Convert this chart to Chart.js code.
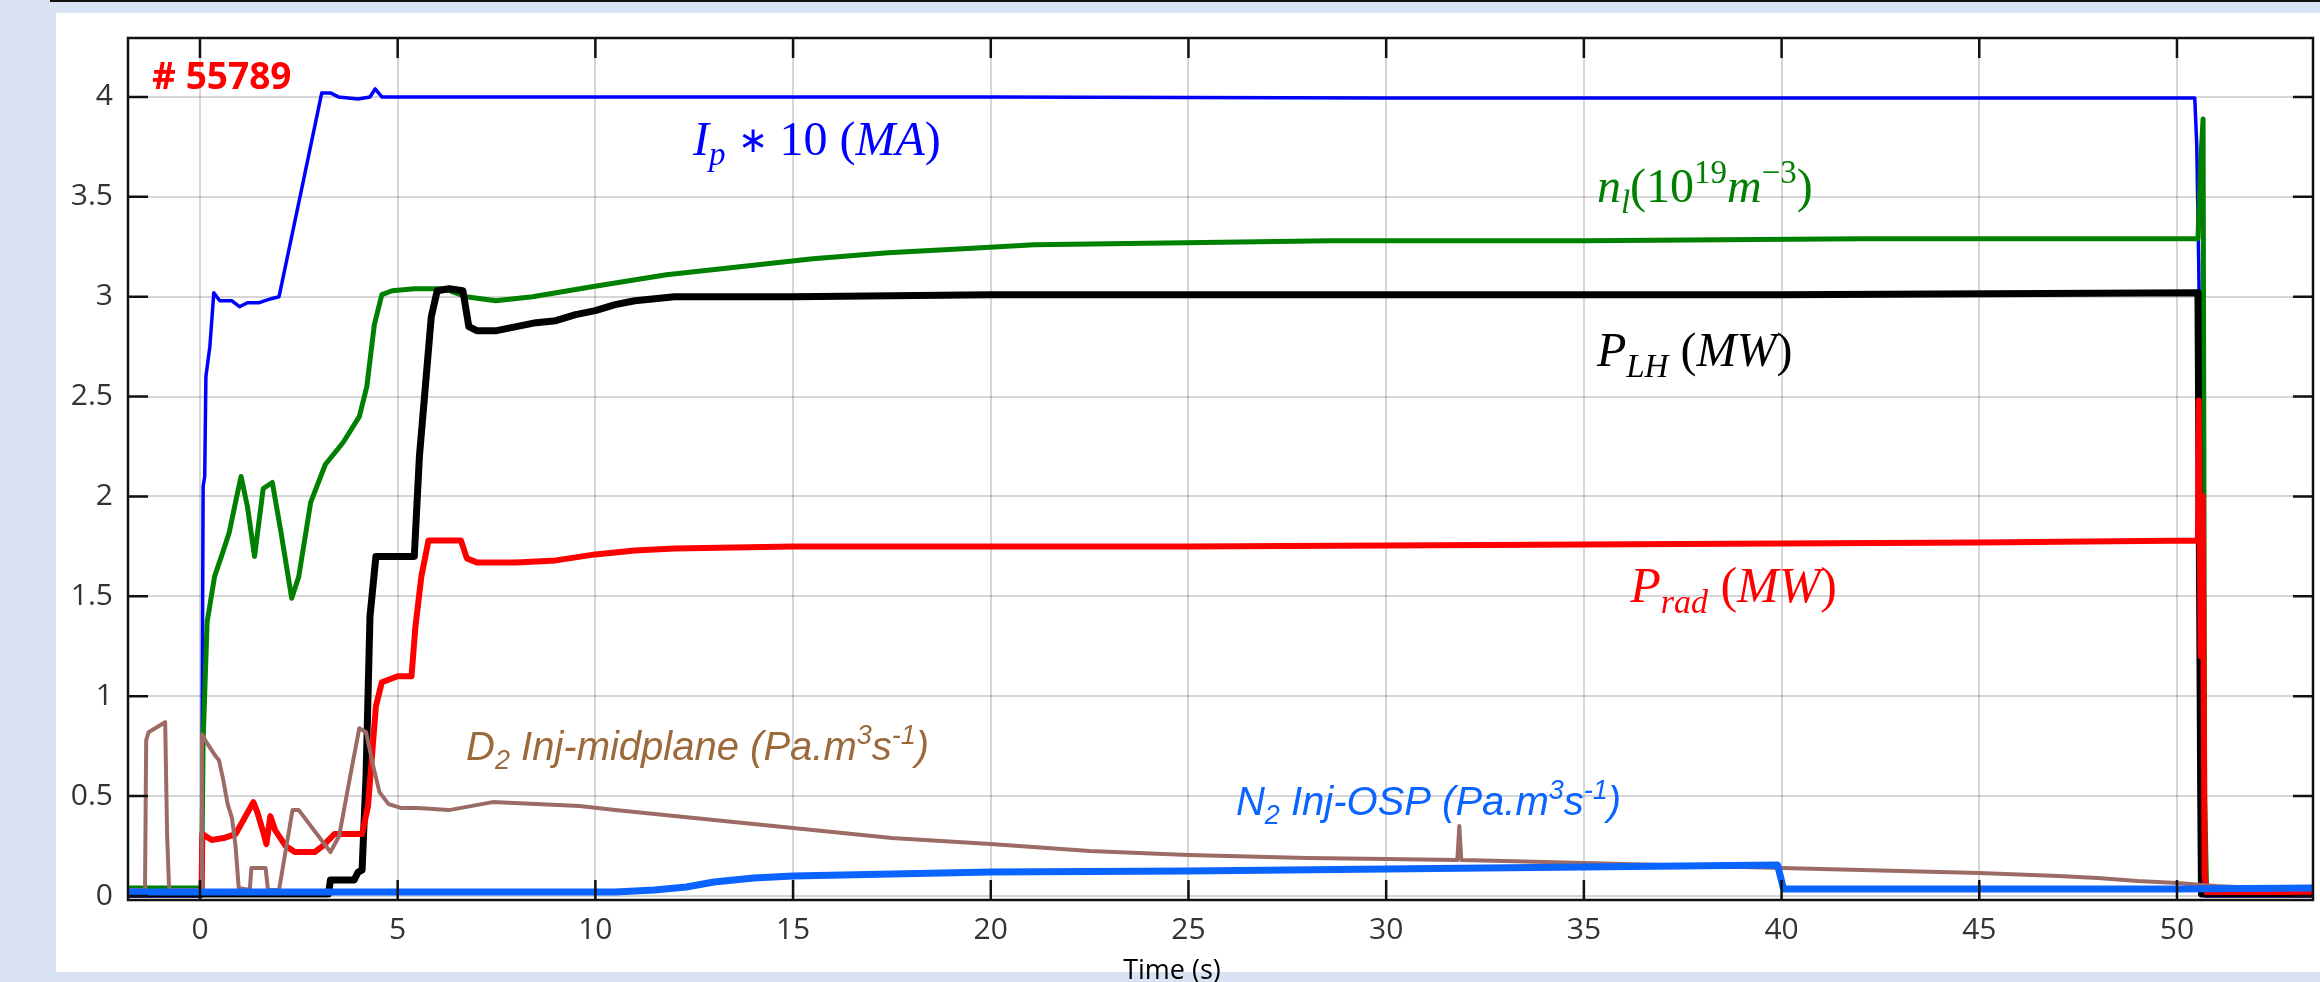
<!DOCTYPE html>
<html>
<head>
<meta charset="utf-8">
<title>Shot 55789</title>
<script src="https://cdn.jsdelivr.net/npm/chart.js@4.4.1/dist/chart.umd.min.js"></script>
<style>
  html, body { margin: 0; padding: 0; }
  body { width: 2320px; height: 982px; background: #dae3f3; position: relative; overflow: hidden; }
  #topline { position: absolute; left: 50px; top: 0; width: 2270px; height: 2px; background: #111; }
  #panel { position: absolute; left: 56px; top: 13px; width: 2264px; height: 959px; background: #fff; }
  #chart { position: absolute; left: 0; top: 0; }
</style>
</head>
<body>
<div id="topline"></div>
<div id="panel"></div>
<canvas id="chart" width="2320" height="982"></canvas>
<script>
// axis ticks
const xTicks = [0, 5, 10, 15, 20, 25, 30, 35, 40, 45, 50];
const yTicks = [0, 0.5, 1, 1.5, 2, 2.5, 3, 3.5, 4];

// Ip * 10 (MA)
const ipT = [-1.82, 0.03, 0.05, 0.08, 0.12, 0.15, 0.25, 0.35, 0.5, 0.8, 1.0, 1.2, 1.5, 1.8, 2.0, 2.53, 3.08, 3.3, 3.5, 4.0, 4.3, 4.43, 4.6, 5.0, 10, 20, 30, 40, 50.45, 50.5, 50.55, 50.6, 50.66, 50.72, 53.44];
const ipV = [0, 0, 0.6, 2.05, 2.1, 2.6, 2.75, 3.02, 2.98, 2.98, 2.95, 2.97, 2.97, 2.99, 3.0, 3.5, 4.02, 4.02, 4.0, 3.99, 4.0, 4.04, 4.0, 4.0, 4.0, 4.0, 3.995, 3.995, 3.995, 3.76, 3.17, 2.29, 0.8, 0, 0];

// n_l (10^19 m^-3)
const nlT = [-1.82, 0.03, 0.05, 0.08, 0.18, 0.37, 0.56, 0.74, 0.93, 1.04, 1.2, 1.38, 1.6, 1.83, 2.05, 2.32, 2.5, 2.8, 3.17, 3.62, 4.03, 4.22, 4.41, 4.6, 4.86, 5.42, 6.17, 6.73, 7.48, 8.41, 9.91, 11.8, 13.65, 15.5, 17.4, 19.3, 21.1, 24.9, 28.6, 35, 42, 50.53, 50.6, 50.66, 50.7, 50.75, 53.44];
const nlV = [0.04, 0.04, 0.2, 0.78, 1.37, 1.6, 1.71, 1.82, 2.0, 2.1, 1.95, 1.7, 2.04, 2.07, 1.82, 1.49, 1.6, 1.97, 2.16, 2.27, 2.4, 2.55, 2.86, 3.01, 3.03, 3.04, 3.04, 3.0, 2.98, 3.0, 3.05, 3.11, 3.15, 3.19, 3.22, 3.24, 3.26, 3.27, 3.28, 3.28, 3.29, 3.29, 3.67, 3.89, 0.5, 0.02, 0.02];

// P_LH (MW)
const plhT = [-1.82, 3.25, 3.3, 3.9, 4.0, 4.1, 4.2, 4.3, 4.45, 5.0, 5.42, 5.55, 5.7, 5.85, 6.0, 6.3, 6.65, 6.8, 7.0, 7.5, 8.0, 8.5, 9.0, 9.5, 10.0, 10.5, 11.0, 12.0, 15, 20, 30, 40, 50.53, 50.56, 50.6, 50.62, 53.44];
const plhV = [0.01, 0.01, 0.08, 0.08, 0.12, 0.13, 0.6, 1.4, 1.7, 1.7, 1.7, 2.2, 2.55, 2.9, 3.03, 3.04, 3.03, 2.85, 2.83, 2.83, 2.85, 2.87, 2.88, 2.91, 2.93, 2.96, 2.98, 3.0, 3.0, 3.01, 3.01, 3.01, 3.02, 1.98, 0.5, 0.01, 0.01];

// P_rad (MW)
const pradT = [-1.82, 0.04, 0.06, 0.3, 0.6, 0.9, 1.1, 1.35, 1.45, 1.6, 1.68, 1.78, 1.9, 2.17, 2.4, 2.9, 3.1, 3.4, 4.1, 4.25, 4.35, 4.45, 4.6, 5.0, 5.35, 5.45, 5.6, 5.78, 6.6, 6.75, 7.0, 8.0, 9.0, 10.0, 11.0, 12.0, 15, 25, 35, 45, 50.53, 50.55, 50.6, 50.65, 50.7, 50.75, 53.44];
const pradV = [0.02, 0.02, 0.31, 0.28, 0.29, 0.31, 0.38, 0.47, 0.42, 0.32, 0.26, 0.4, 0.33, 0.25, 0.22, 0.22, 0.25, 0.31, 0.31, 0.45, 0.7, 0.95, 1.07, 1.1, 1.1, 1.35, 1.6, 1.78, 1.78, 1.69, 1.67, 1.67, 1.68, 1.71, 1.73, 1.74, 1.75, 1.75, 1.76, 1.77, 1.78, 2.48, 1.2, 2.0, 0.1, 0.02, 0.02];

// D2 injection, midplane (Pa.m3/s)
const d2T = [-1.82, -1.39, -1.36, -1.3, -0.88, -0.83, -0.78, 0.0, 0.03, 0.05, 0.13, 0.36, 0.48, 0.59, 0.7, 0.81, 0.9, 0.98, 1.26, 1.3, 1.66, 1.72, 2.0, 2.34, 2.5, 3.3, 3.52, 3.8, 4.03, 4.2, 4.37, 4.54, 4.77, 5.1, 5.5, 6.3, 7.4, 8.5, 9.6, 10.5, 12.0, 13.5, 15, 17.5, 20, 22.5, 25, 28, 30, 31.8, 31.85, 31.9, 33, 35, 38, 40, 43, 45, 47, 48, 49, 50, 51, 52, 53.44];
const d2V = [0.03, 0.03, 0.78, 0.82, 0.87, 0.3, 0.03, 0.03, 0.03, 0.81, 0.78, 0.71, 0.68, 0.58, 0.46, 0.39, 0.25, 0.04, 0.03, 0.14, 0.14, 0.03, 0.03, 0.43, 0.43, 0.22, 0.3, 0.6, 0.84, 0.82, 0.66, 0.52, 0.46, 0.44, 0.44, 0.43, 0.47, 0.46, 0.45, 0.43, 0.4, 0.37, 0.34, 0.29, 0.26, 0.225, 0.205, 0.19, 0.185, 0.18, 0.35, 0.18, 0.175, 0.165, 0.15, 0.14, 0.125, 0.115, 0.1, 0.09, 0.075, 0.065, 0.05, 0.04, 0.035];

// N2 injection, OSP (Pa.m3/s)
const n2T = [-1.82, 5, 9.5, 10.5, 11.5, 12.3, 13.0, 14.0, 15.0, 17.5, 20, 25, 30, 35, 39.9, 40.05, 45, 50, 53.44];
const n2V = [0.02, 0.02, 0.02, 0.02, 0.03, 0.045, 0.07, 0.09, 0.1, 0.11, 0.12, 0.125, 0.135, 0.145, 0.155, 0.035, 0.035, 0.035, 0.04];

const pts = (t, v) => t.map((x, i) => ({ x: x, y: v[i] }));

// text notes, anchored in data units (left edge, baseline)
// run flags: i = italic, b = subscript, p = superscript, m = smaller symbol
const notes = [
  { x: -1.21, y: 4.04, color: '#ff0000', family: '"Noto Sans"', size: 37, weight: 'bold', runs: [['# 55789']] },
  { x: 12.47, y: 3.71, color: '#0000ff', family: '"Liberation Serif"', size: 48, runs: [['I', 'i'], ['p', 'ib'], [' '], ['\u2217', 'm'], [' 10 ('], ['MA', 'i'], [')']] },
  { x: 35.33, y: 3.474, color: '#008000', family: '"Liberation Serif"', size: 48, runs: [['n', 'i'], ['l', 'ib'], ['(10'], ['19', 'p'], ['m', 'i'], ['\u22123', 'p'], [')']] },
  { x: 35.33, y: 2.653, color: '#000000', family: '"Liberation Serif"', size: 48, runs: [['P', 'i'], ['LH', 'ib'], [' ('], ['MW', 'i'], [')']] },
  { x: 36.17, y: 1.472, color: '#ff0000', family: '"Liberation Serif"', size: 50, runs: [['P', 'i'], ['rad', 'ib'], [' ('], ['MW', 'i'], [')']] },
  { x: 6.73, y: 0.681, color: '#9c6a3a', family: '"Liberation Sans"', size: 40, runs: [['D', 'i'], ['2', 'ib'], [' Inj-midplane (Pa.m', 'i'], ['3', 'ip'], ['s', 'i'], ['-1', 'ip'], [')', 'i']] },
  { x: 26.2, y: 0.405, color: '#0a64ff', family: '"Liberation Sans"', size: 40, runs: [['N', 'i'], ['2', 'ib'], [' Inj-OSP (Pa.m', 'i'], ['3', 'ip'], ['s', 'i'], ['-1', 'ip'], [')', 'i']] }
];

function drawNote(ctx, px, py, n) {
  let cx = px;
  ctx.fillStyle = n.color;
  ctx.textAlign = 'left';
  ctx.textBaseline = 'alphabetic';
  n.runs.forEach(([txt, f = '']) => {
    const small = f.includes('b') || f.includes('p');
    let size = small ? Math.round(n.size * 0.68) : n.size;
    let dy = f.includes('b') ? n.size * 0.22 : (f.includes('p') ? -n.size * 0.4 : 0);
    if (f.includes('m')) { size = Math.round(n.size * 0.75); dy = -n.size * 0.05; }
    ctx.font = (f.includes('i') ? 'italic ' : '') + (n.weight || 'normal') + ' ' + size + 'px ' + n.family;
    ctx.fillText(txt, cx, py + dy);
    cx += ctx.measureText(txt).width;
  });
}

// box, inward ticks, notes and axis title
const frame = {
  id: 'frame',
  afterDraw(chart) {
    const { ctx, chartArea: a } = chart;
    const xs = chart.scales.x, ys = chart.scales.y;
    ctx.save();
    ctx.strokeStyle = '#111';
    ctx.lineWidth = 2.5;
    ctx.strokeRect(a.left, a.top, a.right - a.left, a.bottom - a.top);
    ctx.beginPath();
    xTicks.forEach(t => {
      const px = xs.getPixelForValue(t);
      ctx.moveTo(px, a.top); ctx.lineTo(px, a.top + 20);
      ctx.moveTo(px, a.bottom); ctx.lineTo(px, a.bottom - 20);
    });
    yTicks.forEach(v => {
      const py = ys.getPixelForValue(v);
      ctx.moveTo(a.left, py); ctx.lineTo(a.left + 20, py);
      ctx.moveTo(a.right, py); ctx.lineTo(a.right - 20, py);
    });
    ctx.stroke();

    notes.forEach(n => drawNote(ctx, xs.getPixelForValue(n.x), ys.getPixelForValue(n.y), n));

    ctx.fillStyle = '#000';
    ctx.font = '27px "Open Sans"';
    ctx.textAlign = 'center';
    ctx.textBaseline = 'alphabetic';
    ctx.fillText('Time (s)', 1172, 979);
    ctx.restore();
  }
};

const line = (label, t, v, color, width) => ({
  label: label,
  data: pts(t, v),
  borderColor: color,
  borderWidth: width,
  pointRadius: 0,
  tension: 0,
  fill: false,
  borderJoinStyle: 'round'
});

new Chart(document.getElementById('chart'), {
  type: 'line',
  data: {
    datasets: [
      line('N2 Inj-OSP', n2T, n2V, '#0a64ff', 7),
      line('D2 Inj-midplane', d2T, d2V, '#9c6b66', 4),
      line('Prad', pradT, pradV, '#ff0000', 6),
      line('PLH', plhT, plhV, '#000000', 7),
      line('nl', nlT, nlV, '#008000', 5),
      line('Ip*10', ipT, ipV, '#0000ff', 3.5)
    ]
  },
  options: {
    responsive: false,
    devicePixelRatio: 1,
    animation: false,
    layout: { padding: { top: 38, right: 7, bottom: 0, left: 0 } },
    plugins: { legend: { display: false }, tooltip: { enabled: false } },
    scales: {
      x: {
        type: 'linear',
        min: -1.82,
        max: 53.44,
        afterFit: s => { s.height = 82; },
        afterBuildTicks: s => { s.ticks = xTicks.map(v => ({ value: v })); },
        grid: { color: 'rgba(0,0,0,0.16)', lineWidth: 2, drawTicks: false },
        border: { display: false },
        ticks: {
          padding: 12,
          maxRotation: 0,
          autoSkip: false,
          color: '#333',
          font: { family: '"Open Sans"', size: 30 },
          callback: v => String(v)
        }
      },
      y: {
        type: 'linear',
        min: -0.02,
        max: 4.295,
        afterFit: s => { s.width = 128; },
        afterBuildTicks: s => { s.ticks = yTicks.map(v => ({ value: v })); },
        grid: { color: 'rgba(0,0,0,0.16)', lineWidth: 2, drawTicks: false },
        border: { display: false },
        ticks: {
          padding: 15,
          autoSkip: false,
          color: '#333',
          font: { family: '"Open Sans"', size: 30 },
          callback: v => String(v)
        }
      }
    }
  },
  plugins: [frame]
});
</script>
</body>
</html>
